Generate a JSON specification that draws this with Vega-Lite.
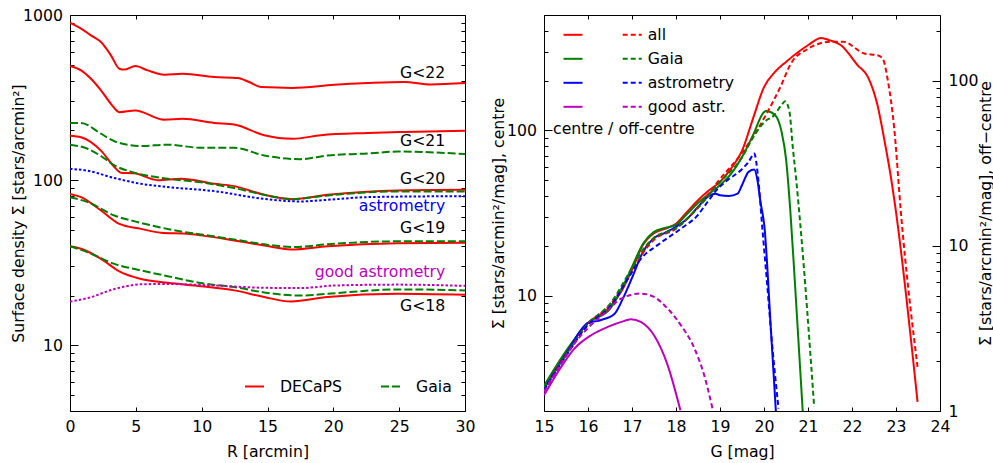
{
  "$schema": "https://vega.github.io/schema/vega-lite/v6.json",
  "padding": {"left": 9, "top": 6, "right": 0, "bottom": 0},
  "background": "white",
  "config": {
    "font": "DejaVu Sans",
    "view": {"stroke": "black", "strokeWidth": 1},
    "axis": {"grid": false, "domain": false, "labelFont": "DejaVu Sans", "labelFontSize": 15.7, "labelColor": "black", "titleFont": "DejaVu Sans", "titleFontSize": 15.7, "titleFontWeight": "normal", "titleColor": "black", "tickColor": "black", "tickWidth": 1, "labelOverlap": false, "labelFlush": false, "labelBound": false},
    "legend": {"labelFont": "DejaVu Sans", "labelFontSize": 15.7, "labelColor": "black", "titleFont": "DejaVu Sans", "titleFontSize": 15.7, "titleFontWeight": "normal", "titleColor": "black", "padding": 0},
    "text": {"font": "DejaVu Sans", "fontSize": 15.7}
  },
  "datasets": {
    "profiles": [
      {"survey": "DECaPS", "cut": "G<22", "R": 0, "density": 898},
      {"survey": "DECaPS", "cut": "G<22", "R": 0.84, "density": 826},
      {"survey": "DECaPS", "cut": "G<22", "R": 1.59, "density": 753},
      {"survey": "DECaPS", "cut": "G<22", "R": 2.35, "density": 686},
      {"survey": "DECaPS", "cut": "G<22", "R": 3.11, "density": 570},
      {"survey": "DECaPS", "cut": "G<22", "R": 3.75, "density": 473},
      {"survey": "DECaPS", "cut": "G<22", "R": 4.12, "density": 467},
      {"survey": "DECaPS", "cut": "G<22", "R": 4.96, "density": 491},
      {"survey": "DECaPS", "cut": "G<22", "R": 5.9, "density": 462},
      {"survey": "DECaPS", "cut": "G<22", "R": 7.16, "density": 435},
      {"survey": "DECaPS", "cut": "G<22", "R": 8.55, "density": 441},
      {"survey": "DECaPS", "cut": "G<22", "R": 10.96, "density": 421},
      {"survey": "DECaPS", "cut": "G<22", "R": 12.73, "density": 415},
      {"survey": "DECaPS", "cut": "G<22", "R": 13.6, "density": 393},
      {"survey": "DECaPS", "cut": "G<22", "R": 14.5, "density": 366},
      {"survey": "DECaPS", "cut": "G<22", "R": 16.9, "density": 362},
      {"survey": "DECaPS", "cut": "G<22", "R": 20.07, "density": 378},
      {"survey": "DECaPS", "cut": "G<22", "R": 22.6, "density": 387},
      {"survey": "DECaPS", "cut": "G<22", "R": 25.4, "density": 393},
      {"survey": "DECaPS", "cut": "G<22", "R": 27.4, "density": 380},
      {"survey": "DECaPS", "cut": "G<22", "R": 30, "density": 387},
      {"survey": "DECaPS", "cut": "G<21", "R": 0, "density": 491},
      {"survey": "DECaPS", "cut": "G<21", "R": 0.84, "density": 462},
      {"survey": "DECaPS", "cut": "G<21", "R": 1.59, "density": 411},
      {"survey": "DECaPS", "cut": "G<21", "R": 2.35, "density": 350},
      {"survey": "DECaPS", "cut": "G<21", "R": 3.11, "density": 290},
      {"survey": "DECaPS", "cut": "G<21", "R": 3.75, "density": 258},
      {"survey": "DECaPS", "cut": "G<21", "R": 4.96, "density": 264},
      {"survey": "DECaPS", "cut": "G<21", "R": 7.16, "density": 232},
      {"survey": "DECaPS", "cut": "G<21", "R": 8.55, "density": 235},
      {"survey": "DECaPS", "cut": "G<21", "R": 10.96, "density": 222},
      {"survey": "DECaPS", "cut": "G<21", "R": 12.48, "density": 217},
      {"survey": "DECaPS", "cut": "G<21", "R": 14.75, "density": 187},
      {"survey": "DECaPS", "cut": "G<21", "R": 16.9, "density": 178},
      {"survey": "DECaPS", "cut": "G<21", "R": 19.06, "density": 187},
      {"survey": "DECaPS", "cut": "G<21", "R": 22.6, "density": 193},
      {"survey": "DECaPS", "cut": "G<21", "R": 25.4, "density": 196},
      {"survey": "DECaPS", "cut": "G<21", "R": 30, "density": 199},
      {"survey": "Gaia", "cut": "G<21", "R": 0, "density": 222},
      {"survey": "Gaia", "cut": "G<21", "R": 0.84, "density": 222},
      {"survey": "Gaia", "cut": "G<21", "R": 2.35, "density": 191},
      {"survey": "Gaia", "cut": "G<21", "R": 3.37, "density": 172},
      {"survey": "Gaia", "cut": "G<21", "R": 5.39, "density": 161},
      {"survey": "Gaia", "cut": "G<21", "R": 7.42, "density": 164},
      {"survey": "Gaia", "cut": "G<21", "R": 9.95, "density": 157},
      {"survey": "Gaia", "cut": "G<21", "R": 12.48, "density": 157},
      {"survey": "Gaia", "cut": "G<21", "R": 14.75, "density": 141},
      {"survey": "Gaia", "cut": "G<21", "R": 17.5, "density": 134},
      {"survey": "Gaia", "cut": "G<21", "R": 19.56, "density": 141},
      {"survey": "Gaia", "cut": "G<21", "R": 22.6, "density": 145},
      {"survey": "Gaia", "cut": "G<21", "R": 24.9, "density": 149},
      {"survey": "Gaia", "cut": "G<21", "R": 30, "density": 144},
      {"survey": "DECaPS", "cut": "G<20", "R": 0, "density": 186},
      {"survey": "DECaPS", "cut": "G<20", "R": 0.84, "density": 182},
      {"survey": "DECaPS", "cut": "G<20", "R": 2.35, "density": 151},
      {"survey": "DECaPS", "cut": "G<20", "R": 3.37, "density": 120},
      {"survey": "DECaPS", "cut": "G<20", "R": 3.87, "density": 111},
      {"survey": "DECaPS", "cut": "G<20", "R": 4.88, "density": 110},
      {"survey": "DECaPS", "cut": "G<20", "R": 6.66, "density": 100},
      {"survey": "DECaPS", "cut": "G<20", "R": 8.43, "density": 102},
      {"survey": "DECaPS", "cut": "G<20", "R": 10.96, "density": 95},
      {"survey": "DECaPS", "cut": "G<20", "R": 12.48, "density": 92},
      {"survey": "DECaPS", "cut": "G<20", "R": 14.75, "density": 81.5},
      {"survey": "DECaPS", "cut": "G<20", "R": 16.9, "density": 76.7},
      {"survey": "DECaPS", "cut": "G<20", "R": 19.56, "density": 81.5},
      {"survey": "DECaPS", "cut": "G<20", "R": 24.9, "density": 86.7},
      {"survey": "DECaPS", "cut": "G<20", "R": 30, "density": 87.5},
      {"survey": "Gaia", "cut": "G<20", "R": 0, "density": 164},
      {"survey": "Gaia", "cut": "G<20", "R": 1.34, "density": 155},
      {"survey": "Gaia", "cut": "G<20", "R": 2.35, "density": 140},
      {"survey": "Gaia", "cut": "G<20", "R": 3.37, "density": 123},
      {"survey": "Gaia", "cut": "G<20", "R": 4.88, "density": 111},
      {"survey": "Gaia", "cut": "G<20", "R": 7.42, "density": 102},
      {"survey": "Gaia", "cut": "G<20", "R": 9.95, "density": 97},
      {"survey": "Gaia", "cut": "G<20", "R": 12.48, "density": 89.5},
      {"survey": "Gaia", "cut": "G<20", "R": 14.75, "density": 81.5},
      {"survey": "Gaia", "cut": "G<20", "R": 16.9, "density": 76.7},
      {"survey": "Gaia", "cut": "G<20", "R": 19.56, "density": 80.8},
      {"survey": "Gaia", "cut": "G<20", "R": 24.9, "density": 85.5},
      {"survey": "Gaia", "cut": "G<20", "R": 30, "density": 85.5},
      {"survey": "DECaPS", "cut": "G<19", "R": 0, "density": 82.6},
      {"survey": "DECaPS", "cut": "G<19", "R": 0.84, "density": 78.9},
      {"survey": "DECaPS", "cut": "G<19", "R": 2.35, "density": 65.5},
      {"survey": "DECaPS", "cut": "G<19", "R": 3.75, "density": 54.3},
      {"survey": "DECaPS", "cut": "G<19", "R": 5.39, "density": 50.7},
      {"survey": "DECaPS", "cut": "G<19", "R": 6.91, "density": 48},
      {"survey": "DECaPS", "cut": "G<19", "R": 8.94, "density": 47.3},
      {"survey": "DECaPS", "cut": "G<19", "R": 9.95, "density": 46.3},
      {"survey": "DECaPS", "cut": "G<19", "R": 12.48, "density": 43.1},
      {"survey": "DECaPS", "cut": "G<19", "R": 14.75, "density": 40.2},
      {"survey": "DECaPS", "cut": "G<19", "R": 16.78, "density": 38},
      {"survey": "DECaPS", "cut": "G<19", "R": 19.56, "density": 39.8},
      {"survey": "DECaPS", "cut": "G<19", "R": 24.9, "density": 41.5},
      {"survey": "DECaPS", "cut": "G<19", "R": 30, "density": 41.7},
      {"survey": "Gaia", "cut": "G<19", "R": 0, "density": 78.9},
      {"survey": "Gaia", "cut": "G<19", "R": 1.34, "density": 73.6},
      {"survey": "Gaia", "cut": "G<19", "R": 3.37, "density": 61.1},
      {"survey": "Gaia", "cut": "G<19", "R": 5.39, "density": 55.1},
      {"survey": "Gaia", "cut": "G<19", "R": 8.43, "density": 48.9},
      {"survey": "Gaia", "cut": "G<19", "R": 9.95, "density": 46.9},
      {"survey": "Gaia", "cut": "G<19", "R": 12.48, "density": 43.7},
      {"survey": "Gaia", "cut": "G<19", "R": 14.75, "density": 40.9},
      {"survey": "Gaia", "cut": "G<19", "R": 17.03, "density": 39.3},
      {"survey": "Gaia", "cut": "G<19", "R": 19.56, "density": 40.9},
      {"survey": "Gaia", "cut": "G<19", "R": 24.9, "density": 42.6},
      {"survey": "Gaia", "cut": "G<19", "R": 30, "density": 42.6},
      {"survey": "DECaPS", "cut": "G<18", "R": 0, "density": 39.8},
      {"survey": "DECaPS", "cut": "G<18", "R": 0.84, "density": 38.4},
      {"survey": "DECaPS", "cut": "G<18", "R": 2.35, "density": 33.4},
      {"survey": "DECaPS", "cut": "G<18", "R": 3.75, "density": 28},
      {"survey": "DECaPS", "cut": "G<18", "R": 5.39, "density": 25.2},
      {"survey": "DECaPS", "cut": "G<18", "R": 7.42, "density": 23.9},
      {"survey": "DECaPS", "cut": "G<18", "R": 9.95, "density": 22.8},
      {"survey": "DECaPS", "cut": "G<18", "R": 12.48, "density": 21.5},
      {"survey": "DECaPS", "cut": "G<18", "R": 14.75, "density": 19.6},
      {"survey": "DECaPS", "cut": "G<18", "R": 16.78, "density": 18.4},
      {"survey": "DECaPS", "cut": "G<18", "R": 19.56, "density": 19.6},
      {"survey": "DECaPS", "cut": "G<18", "R": 24.9, "density": 20.5},
      {"survey": "DECaPS", "cut": "G<18", "R": 30, "density": 20.2},
      {"survey": "Gaia", "cut": "G<18", "R": 0, "density": 39.8},
      {"survey": "Gaia", "cut": "G<18", "R": 1.34, "density": 36.6},
      {"survey": "Gaia", "cut": "G<18", "R": 3.37, "density": 31.1},
      {"survey": "Gaia", "cut": "G<18", "R": 5.39, "density": 28.4},
      {"survey": "Gaia", "cut": "G<18", "R": 7.42, "density": 26.2},
      {"survey": "Gaia", "cut": "G<18", "R": 9.95, "density": 23.8},
      {"survey": "Gaia", "cut": "G<18", "R": 12.48, "density": 22.5},
      {"survey": "Gaia", "cut": "G<18", "R": 14.75, "density": 20.9},
      {"survey": "Gaia", "cut": "G<18", "R": 17.5, "density": 20.0},
      {"survey": "Gaia", "cut": "G<18", "R": 19.56, "density": 20.5},
      {"survey": "Gaia", "cut": "G<18", "R": 24.9, "density": 21.8},
      {"survey": "Gaia", "cut": "G<18", "R": 30, "density": 21.5}
    ],
    "dotted": [
      {"sample": "astrometry", "R": 0, "density": 117},
      {"sample": "astrometry", "R": 1.34, "density": 114},
      {"sample": "astrometry", "R": 3.37, "density": 103},
      {"sample": "astrometry", "R": 5.39, "density": 95},
      {"sample": "astrometry", "R": 7.42, "density": 90.8},
      {"sample": "astrometry", "R": 10.96, "density": 85.8},
      {"sample": "astrometry", "R": 14.75, "density": 77},
      {"sample": "astrometry", "R": 17.5, "density": 74.3},
      {"sample": "astrometry", "R": 19.56, "density": 76},
      {"sample": "astrometry", "R": 22.6, "density": 78.9},
      {"sample": "astrometry", "R": 30, "density": 80},
      {"sample": "good astrometry", "R": 0, "density": 18.4},
      {"sample": "good astrometry", "R": 1.34, "density": 19.3},
      {"sample": "good astrometry", "R": 3.37, "density": 21.9},
      {"sample": "good astrometry", "R": 5.39, "density": 23.4},
      {"sample": "good astrometry", "R": 7.42, "density": 23.5},
      {"sample": "good astrometry", "R": 10.96, "density": 23},
      {"sample": "good astrometry", "R": 14.75, "density": 22.3},
      {"sample": "good astrometry", "R": 17.5, "density": 22.2},
      {"sample": "good astrometry", "R": 20.07, "density": 23},
      {"sample": "good astrometry", "R": 24.9, "density": 23.3},
      {"sample": "good astrometry", "R": 30, "density": 22.9}
    ],
    "labels": [
      {"text": "G<22", "kind": "cut", "R": 28.5, "density": 447},
      {"text": "G<21", "kind": "cut", "R": 28.5, "density": 172},
      {"text": "G<20", "kind": "cut", "R": 28.5, "density": 102},
      {"text": "astrometry", "kind": "astrometry", "R": 28.5, "density": 69.5},
      {"text": "G<19", "kind": "cut", "R": 28.5, "density": 51.2},
      {"text": "good astrometry", "kind": "good astrometry", "R": 28.5, "density": 27.7},
      {"text": "G<18", "kind": "cut", "R": 28.5, "density": 17.2}
    ],
    "lf": [
      {"region": "centre", "pop": "all", "G": 15, "sigma": 2.8},
      {"region": "centre", "pop": "all", "G": 15.5, "sigma": 4.56},
      {"region": "centre", "pop": "all", "G": 16, "sigma": 6.83},
      {"region": "centre", "pop": "all", "G": 16.5, "sigma": 8.53},
      {"region": "centre", "pop": "all", "G": 16.75, "sigma": 10.5},
      {"region": "centre", "pop": "all", "G": 17, "sigma": 14.3},
      {"region": "centre", "pop": "all", "G": 17.25, "sigma": 20.3},
      {"region": "centre", "pop": "all", "G": 17.5, "sigma": 23.9},
      {"region": "centre", "pop": "all", "G": 17.75, "sigma": 25.4},
      {"region": "centre", "pop": "all", "G": 18, "sigma": 27.2},
      {"region": "centre", "pop": "all", "G": 18.25, "sigma": 32.1},
      {"region": "centre", "pop": "all", "G": 18.5, "sigma": 37.8},
      {"region": "centre", "pop": "all", "G": 18.75, "sigma": 43.4},
      {"region": "centre", "pop": "all", "G": 19, "sigma": 48.8},
      {"region": "centre", "pop": "all", "G": 19.25, "sigma": 58.7},
      {"region": "centre", "pop": "all", "G": 19.5, "sigma": 75.1},
      {"region": "centre", "pop": "all", "G": 19.75, "sigma": 118},
      {"region": "centre", "pop": "all", "G": 20, "sigma": 183},
      {"region": "centre", "pop": "all", "G": 20.25, "sigma": 226},
      {"region": "centre", "pop": "all", "G": 20.5, "sigma": 260},
      {"region": "centre", "pop": "all", "G": 21, "sigma": 328},
      {"region": "centre", "pop": "all", "G": 21.3, "sigma": 363},
      {"region": "centre", "pop": "all", "G": 21.5, "sigma": 351},
      {"region": "centre", "pop": "all", "G": 21.75, "sigma": 328},
      {"region": "centre", "pop": "all", "G": 22.13, "sigma": 248},
      {"region": "centre", "pop": "all", "G": 22.36, "sigma": 211},
      {"region": "centre", "pop": "all", "G": 22.58, "sigma": 142},
      {"region": "centre", "pop": "all", "G": 22.73, "sigma": 89.2},
      {"region": "centre", "pop": "all", "G": 22.89, "sigma": 51},
      {"region": "centre", "pop": "all", "G": 23, "sigma": 32.1},
      {"region": "centre", "pop": "all", "G": 23.49, "sigma": 2.27},
      {"region": "centre", "pop": "Gaia", "G": 15, "sigma": 2.84},
      {"region": "centre", "pop": "Gaia", "G": 15.5, "sigma": 4.62},
      {"region": "centre", "pop": "Gaia", "G": 16, "sigma": 6.83},
      {"region": "centre", "pop": "Gaia", "G": 16.5, "sigma": 8.31},
      {"region": "centre", "pop": "Gaia", "G": 16.75, "sigma": 10.8},
      {"region": "centre", "pop": "Gaia", "G": 17, "sigma": 14.9},
      {"region": "centre", "pop": "Gaia", "G": 17.25, "sigma": 20.6},
      {"region": "centre", "pop": "Gaia", "G": 17.5, "sigma": 24.3},
      {"region": "centre", "pop": "Gaia", "G": 17.75, "sigma": 25.7},
      {"region": "centre", "pop": "Gaia", "G": 18, "sigma": 26.8},
      {"region": "centre", "pop": "Gaia", "G": 18.25, "sigma": 31.2},
      {"region": "centre", "pop": "Gaia", "G": 18.5, "sigma": 36.4},
      {"region": "centre", "pop": "Gaia", "G": 18.75, "sigma": 41.3},
      {"region": "centre", "pop": "Gaia", "G": 19, "sigma": 46.6},
      {"region": "centre", "pop": "Gaia", "G": 19.25, "sigma": 54.5},
      {"region": "centre", "pop": "Gaia", "G": 19.5, "sigma": 69},
      {"region": "centre", "pop": "Gaia", "G": 19.75, "sigma": 93.5},
      {"region": "centre", "pop": "Gaia", "G": 20, "sigma": 129},
      {"region": "centre", "pop": "Gaia", "G": 20.05, "sigma": 131},
      {"region": "centre", "pop": "Gaia", "G": 20.25, "sigma": 124},
      {"region": "centre", "pop": "Gaia", "G": 20.4, "sigma": 98},
      {"region": "centre", "pop": "Gaia", "G": 20.5, "sigma": 67.5},
      {"region": "centre", "pop": "Gaia", "G": 20.6, "sigma": 32.1},
      {"region": "centre", "pop": "Gaia", "G": 20.7, "sigma": 12.3},
      {"region": "centre", "pop": "Gaia", "G": 20.88, "sigma": 2.0},
      {"region": "centre", "pop": "astrometry", "G": 15, "sigma": 2.72},
      {"region": "centre", "pop": "astrometry", "G": 15.5, "sigma": 4.43},
      {"region": "centre", "pop": "astrometry", "G": 16, "sigma": 6.83},
      {"region": "centre", "pop": "astrometry", "G": 16.3, "sigma": 7.12},
      {"region": "centre", "pop": "astrometry", "G": 16.6, "sigma": 7.74},
      {"region": "centre", "pop": "astrometry", "G": 16.8, "sigma": 9.68},
      {"region": "centre", "pop": "astrometry", "G": 17, "sigma": 12.8},
      {"region": "centre", "pop": "astrometry", "G": 17.25, "sigma": 18.4},
      {"region": "centre", "pop": "astrometry", "G": 17.5, "sigma": 22.3},
      {"region": "centre", "pop": "astrometry", "G": 17.75, "sigma": 24.0},
      {"region": "centre", "pop": "astrometry", "G": 18, "sigma": 26.1},
      {"region": "centre", "pop": "astrometry", "G": 18.25, "sigma": 29.1},
      {"region": "centre", "pop": "astrometry", "G": 18.5, "sigma": 34.4},
      {"region": "centre", "pop": "astrometry", "G": 18.75, "sigma": 40.1},
      {"region": "centre", "pop": "astrometry", "G": 18.9, "sigma": 41.4},
      {"region": "centre", "pop": "astrometry", "G": 19, "sigma": 40.5},
      {"region": "centre", "pop": "astrometry", "G": 19.2, "sigma": 40.1},
      {"region": "centre", "pop": "astrometry", "G": 19.4, "sigma": 41.4},
      {"region": "centre", "pop": "astrometry", "G": 19.5, "sigma": 46.6},
      {"region": "centre", "pop": "astrometry", "G": 19.65, "sigma": 56.1},
      {"region": "centre", "pop": "astrometry", "G": 19.78, "sigma": 57.9},
      {"region": "centre", "pop": "astrometry", "G": 19.85, "sigma": 50.1},
      {"region": "centre", "pop": "astrometry", "G": 19.92, "sigma": 36.9},
      {"region": "centre", "pop": "astrometry", "G": 20.01, "sigma": 26.1},
      {"region": "centre", "pop": "astrometry", "G": 20.16, "sigma": 6.03},
      {"region": "centre", "pop": "astrometry", "G": 20.27, "sigma": 2.0},
      {"region": "centre", "pop": "good astr.", "G": 15, "sigma": 2.49},
      {"region": "centre", "pop": "good astr.", "G": 15.39, "sigma": 3.7},
      {"region": "centre", "pop": "good astr.", "G": 15.69, "sigma": 4.77},
      {"region": "centre", "pop": "good astr.", "G": 16.07, "sigma": 5.75},
      {"region": "centre", "pop": "good astr.", "G": 16.45, "sigma": 6.46},
      {"region": "centre", "pop": "good astr.", "G": 16.83, "sigma": 7.03},
      {"region": "centre", "pop": "good astr.", "G": 16.98, "sigma": 7.19},
      {"region": "centre", "pop": "good astr.", "G": 17.2, "sigma": 6.93},
      {"region": "centre", "pop": "good astr.", "G": 17.5, "sigma": 5.75},
      {"region": "centre", "pop": "good astr.", "G": 17.81, "sigma": 3.79},
      {"region": "centre", "pop": "good astr.", "G": 18.1, "sigma": 2.02},
      {"region": "off-centre", "pop": "all", "G": 15, "sigma": 1.343},
      {"region": "off-centre", "pop": "all", "G": 15.5, "sigma": 2.19},
      {"region": "off-centre", "pop": "all", "G": 16, "sigma": 3.37},
      {"region": "off-centre", "pop": "all", "G": 16.5, "sigma": 4.39},
      {"region": "off-centre", "pop": "all", "G": 17, "sigma": 6.95},
      {"region": "off-centre", "pop": "all", "G": 17.25, "sigma": 9.06},
      {"region": "off-centre", "pop": "all", "G": 17.5, "sigma": 10.9},
      {"region": "off-centre", "pop": "all", "G": 18, "sigma": 12.7},
      {"region": "off-centre", "pop": "all", "G": 18.5, "sigma": 17.2},
      {"region": "off-centre", "pop": "all", "G": 19, "sigma": 25.4},
      {"region": "off-centre", "pop": "all", "G": 19.48, "sigma": 36},
      {"region": "off-centre", "pop": "all", "G": 19.86, "sigma": 51},
      {"region": "off-centre", "pop": "all", "G": 20.08, "sigma": 64.7},
      {"region": "off-centre", "pop": "all", "G": 20.39, "sigma": 93.8},
      {"region": "off-centre", "pop": "all", "G": 20.61, "sigma": 126.8},
      {"region": "off-centre", "pop": "all", "G": 21, "sigma": 156},
      {"region": "off-centre", "pop": "all", "G": 21.5, "sigma": 172},
      {"region": "off-centre", "pop": "all", "G": 21.8, "sigma": 172},
      {"region": "off-centre", "pop": "all", "G": 22.28, "sigma": 146},
      {"region": "off-centre", "pop": "all", "G": 22.58, "sigma": 142.5},
      {"region": "off-centre", "pop": "all", "G": 22.7, "sigma": 136},
      {"region": "off-centre", "pop": "all", "G": 22.81, "sigma": 102},
      {"region": "off-centre", "pop": "all", "G": 22.96, "sigma": 51.3},
      {"region": "off-centre", "pop": "all", "G": 23.11, "sigma": 16.1},
      {"region": "off-centre", "pop": "all", "G": 23.49, "sigma": 1.85},
      {"region": "off-centre", "pop": "Gaia", "G": 15, "sigma": 1.38},
      {"region": "off-centre", "pop": "Gaia", "G": 15.5, "sigma": 2.19},
      {"region": "off-centre", "pop": "Gaia", "G": 16, "sigma": 3.37},
      {"region": "off-centre", "pop": "Gaia", "G": 16.5, "sigma": 4.45},
      {"region": "off-centre", "pop": "Gaia", "G": 17, "sigma": 7.36},
      {"region": "off-centre", "pop": "Gaia", "G": 17.25, "sigma": 9.5},
      {"region": "off-centre", "pop": "Gaia", "G": 17.5, "sigma": 11.2},
      {"region": "off-centre", "pop": "Gaia", "G": 18, "sigma": 12.8},
      {"region": "off-centre", "pop": "Gaia", "G": 18.5, "sigma": 17},
      {"region": "off-centre", "pop": "Gaia", "G": 19, "sigma": 24.4},
      {"region": "off-centre", "pop": "Gaia", "G": 19.48, "sigma": 33.7},
      {"region": "off-centre", "pop": "Gaia", "G": 19.78, "sigma": 46.7},
      {"region": "off-centre", "pop": "Gaia", "G": 20.01, "sigma": 56.3},
      {"region": "off-centre", "pop": "Gaia", "G": 20.23, "sigma": 61.8},
      {"region": "off-centre", "pop": "Gaia", "G": 20.42, "sigma": 72.6},
      {"region": "off-centre", "pop": "Gaia", "G": 20.48, "sigma": 75.1},
      {"region": "off-centre", "pop": "Gaia", "G": 20.58, "sigma": 64.7},
      {"region": "off-centre", "pop": "Gaia", "G": 20.65, "sigma": 40.6},
      {"region": "off-centre", "pop": "Gaia", "G": 20.73, "sigma": 25.5},
      {"region": "off-centre", "pop": "Gaia", "G": 20.82, "sigma": 14},
      {"region": "off-centre", "pop": "Gaia", "G": 21.14, "sigma": 1.06},
      {"region": "off-centre", "pop": "astrometry", "G": 15, "sigma": 1.343},
      {"region": "off-centre", "pop": "astrometry", "G": 15.5, "sigma": 2.16},
      {"region": "off-centre", "pop": "astrometry", "G": 16, "sigma": 3.32},
      {"region": "off-centre", "pop": "astrometry", "G": 16.5, "sigma": 4.27},
      {"region": "off-centre", "pop": "astrometry", "G": 17, "sigma": 6.95},
      {"region": "off-centre", "pop": "astrometry", "G": 17.2, "sigma": 8.34},
      {"region": "off-centre", "pop": "astrometry", "G": 17.58, "sigma": 10.1},
      {"region": "off-centre", "pop": "astrometry", "G": 18.11, "sigma": 12.7},
      {"region": "off-centre", "pop": "astrometry", "G": 18.49, "sigma": 15.3},
      {"region": "off-centre", "pop": "astrometry", "G": 18.72, "sigma": 18.5},
      {"region": "off-centre", "pop": "astrometry", "G": 18.95, "sigma": 22.2},
      {"region": "off-centre", "pop": "astrometry", "G": 19.17, "sigma": 25},
      {"region": "off-centre", "pop": "astrometry", "G": 19.48, "sigma": 28.8},
      {"region": "off-centre", "pop": "astrometry", "G": 19.65, "sigma": 32.2},
      {"region": "off-centre", "pop": "astrometry", "G": 19.78, "sigma": 36.2},
      {"region": "off-centre", "pop": "astrometry", "G": 19.86, "sigma": 26.8},
      {"region": "off-centre", "pop": "astrometry", "G": 19.97, "sigma": 12.1},
      {"region": "off-centre", "pop": "astrometry", "G": 20.08, "sigma": 5.51},
      {"region": "off-centre", "pop": "astrometry", "G": 20.16, "sigma": 3.01},
      {"region": "off-centre", "pop": "astrometry", "G": 20.33, "sigma": 1.035},
      {"region": "off-centre", "pop": "good astr.", "G": 15, "sigma": 1.306},
      {"region": "off-centre", "pop": "good astr.", "G": 15.39, "sigma": 1.936},
      {"region": "off-centre", "pop": "good astr.", "G": 15.69, "sigma": 2.56},
      {"region": "off-centre", "pop": "good astr.", "G": 15.99, "sigma": 3.16},
      {"region": "off-centre", "pop": "good astr.", "G": 16.45, "sigma": 4.07},
      {"region": "off-centre", "pop": "good astr.", "G": 16.75, "sigma": 4.79},
      {"region": "off-centre", "pop": "good astr.", "G": 17.2, "sigma": 5.14},
      {"region": "off-centre", "pop": "good astr.", "G": 17.5, "sigma": 4.91},
      {"region": "off-centre", "pop": "good astr.", "G": 17.81, "sigma": 4.17},
      {"region": "off-centre", "pop": "good astr.", "G": 18.11, "sigma": 3.31},
      {"region": "off-centre", "pop": "good astr.", "G": 18.42, "sigma": 2.39},
      {"region": "off-centre", "pop": "good astr.", "G": 18.64, "sigma": 1.65},
      {"region": "off-centre", "pop": "good astr.", "G": 18.83, "sigma": 1.035}
    ]
  },
  "bounds": "flush",
  "spacing": 79,
  "hconcat": [
    {
      "width": 395,
      "height": 396,
      "layer": [
        {
          "data": {"name": "profiles"},
          "transform": [{"filter": "datum.survey == 'DECaPS'"}],
          "mark": {"type": "line", "interpolate": "monotone", "strokeWidth": 2, "clip": true},
          "encoding": {
            "x": {"field": "R", "type": "quantitative", "scale": {"domain": [0, 30], "nice": false, "zero": false},
              "axis": {"orient": "bottom", "values": [0, 5, 10, 15, 20, 25, 30], "title": "R [arcmin]", "tickSize": -4, "labelPadding": 12, "titleY": 40, "titleBaseline": "middle"}},
            "y": {"field": "density", "type": "quantitative", "scale": {"type": "log", "domain": [4, 1000], "nice": false},
              "axis": {"orient": "left", "values": [4, 5, 6, 7, 8, 9, 10, 20, 30, 40, 50, 60, 70, 80, 90, 100, 200, 300, 400, 500, 600, 700, 800, 900, 1000],
                "labelExpr": "(datum.value == 10 || datum.value == 100 || datum.value == 1000) ? '' + datum.value : ''",
                "tickSize": {"condition": {"test": "datum.value == 10 || datum.value == 100 || datum.value == 1000", "value": -8}, "value": -4},
                "labelPadding": 15.5, "title": "Surface density Σ [stars/arcmin²]", "titleX": -51.5, "titleAngle": 270, "titleBaseline": "middle"}},
            "color": {"field": "survey", "type": "nominal", "scale": {"domain": ["DECaPS"], "range": ["#ff0000"]},
              "legend": {"orient": "none", "legendX": 174, "legendY": 361, "title": null, "symbolType": "stroke", "symbolSize": 361, "symbolStrokeWidth": 2, "labelOffset": 15}},
            "detail": {"field": "cut", "type": "nominal"}
          }
        },
        {
          "data": {"name": "profiles"},
          "transform": [{"filter": "datum.survey == 'Gaia'"}],
          "mark": {"type": "line", "interpolate": "monotone", "strokeWidth": 2, "strokeDash": [8, 3], "clip": true},
          "encoding": {
            "x": {"field": "R", "type": "quantitative",
              "axis": {"orient": "top", "values": [0, 5, 10, 15, 20, 25, 30], "labels": false, "title": null, "tickSize": -4}},
            "y": {"field": "density", "type": "quantitative",
              "axis": {"orient": "right", "values": [4, 5, 6, 7, 8, 9, 10, 20, 30, 40, 50, 60, 70, 80, 90, 100, 200, 300, 400, 500, 600, 700, 800, 900, 1000], "labels": false, "title": null,
                "tickSize": {"condition": {"test": "datum.value == 10 || datum.value == 100 || datum.value == 1000", "value": -8}, "value": -4}}},
            "color": {"field": "survey", "type": "nominal", "scale": {"domain": ["Gaia"], "range": ["#008000"]},
              "legend": {"orient": "none", "legendX": 310, "legendY": 361, "title": null, "symbolType": "stroke", "symbolSize": 361, "symbolStrokeWidth": 2, "symbolDash": [8, 3], "labelOffset": 15}},
            "detail": {"field": "cut", "type": "nominal"}
          }
        },
        {
          "data": {"name": "dotted"},
          "mark": {"type": "line", "interpolate": "monotone", "strokeWidth": 2, "strokeDash": [2.5, 2], "clip": true},
          "encoding": {
            "x": {"field": "R", "type": "quantitative", "axis": null},
            "y": {"field": "density", "type": "quantitative", "axis": null},
            "color": {"field": "sample", "type": "nominal", "scale": {"domain": ["astrometry", "good astrometry"], "range": ["#0000ff", "#bf00bf"]}, "legend": null}
          }
        },
        {
          "data": {"name": "labels"},
          "mark": {"type": "text", "align": "right", "baseline": "middle", "fontSize": 15.7},
          "encoding": {
            "x": {"field": "R", "type": "quantitative", "axis": null},
            "y": {"field": "density", "type": "quantitative", "axis": null},
            "text": {"field": "text"},
            "color": {"field": "kind", "type": "nominal", "scale": {"domain": ["cut", "astrometry", "good astrometry"], "range": ["#000000", "#0000ff", "#bf00bf"]}, "legend": null}
          }
        }
      ],
      "resolve": {"scale": {"color": "independent"}, "axis": {"x": "independent", "y": "independent"}, "legend": {"color": "independent"}}
    },
    {
      "width": 396,
      "height": 396,
      "layer": [
        {
          "data": {"name": "lf"},
          "transform": [{"filter": "datum.region == 'centre'"}],
          "mark": {"type": "line", "interpolate": "monotone", "strokeWidth": 2, "clip": true},
          "encoding": {
            "x": {"field": "G", "type": "quantitative", "scale": {"domain": [15, 24], "nice": false, "zero": false},
              "axis": {"orient": "bottom", "values": [15, 16, 17, 18, 19, 20, 21, 22, 23, 24], "title": "G [mag]", "tickSize": -4, "labelPadding": 12, "titleY": 40, "titleBaseline": "middle"}},
            "y": {"field": "sigma", "type": "quantitative", "scale": {"type": "log", "domain": [2, 500], "nice": false},
              "axis": {"orient": "left", "values": [2, 3, 4, 5, 6, 7, 8, 9, 10, 20, 30, 40, 50, 60, 70, 80, 90, 100, 200, 300, 400, 500],
                "labelExpr": "(datum.value == 10 || datum.value == 100) ? '' + datum.value : ''",
                "tickSize": {"condition": {"test": "datum.value == 10 || datum.value == 100", "value": -8}, "value": -4},
                "labelPadding": 15.5, "title": "Σ [stars/arcmin²/mag], centre", "titleX": -46, "titleAngle": 270, "titleBaseline": "middle"}},
            "color": {"field": "pop", "type": "nominal", "scale": {"domain": ["all", "Gaia", "astrometry", "good astr."], "range": ["#ff0000", "#008000", "#0000ff", "#bf00bf"]},
              "legend": {"orient": "none", "legendX": 9, "legendY": 9.3, "title": "centre / off-centre", "titleOrient": "bottom", "titleAnchor": "start", "titlePadding": 7.4, "symbolType": "stroke", "symbolSize": 361, "symbolStrokeWidth": 2, "symbolOffset": 9.5, "labelExpr": "''", "rowPadding": 5}}
          }
        },
        {
          "data": {"name": "lf"},
          "transform": [{"filter": "datum.region == 'off-centre'"}],
          "mark": {"type": "line", "interpolate": "monotone", "strokeWidth": 2, "strokeDash": [5, 3], "clip": true},
          "encoding": {
            "x": {"field": "G", "type": "quantitative",
              "axis": {"orient": "top", "values": [15, 16, 17, 18, 19, 20, 21, 22, 23, 24], "labels": false, "title": null, "tickSize": -4}},
            "y": {"field": "sigma", "type": "quantitative", "scale": {"type": "log", "domain": [1, 250], "nice": false},
              "axis": {"orient": "right", "values": [1, 2, 3, 4, 5, 6, 7, 8, 9, 10, 20, 30, 40, 50, 60, 70, 80, 90, 100, 200],
                "labelExpr": "(datum.value == 1 || datum.value == 10 || datum.value == 100) ? '' + datum.value : ''",
                "tickSize": {"condition": {"test": "datum.value == 1 || datum.value == 10 || datum.value == 100", "value": -8}, "value": -4},
                "labelPadding": 16, "title": "Σ [stars/arcmin²/mag], off−centre", "titleX": 45, "titleAngle": 270, "titleBaseline": "middle"}},
            "color": {"field": "pop", "type": "nominal", "scale": {"domain": ["all", "Gaia", "astrometry", "good astr."], "range": ["#ff0000", "#008000", "#0000ff", "#bf00bf"]},
              "legend": {"orient": "none", "legendX": 77.7, "legendY": 9.3, "title": null, "symbolType": "stroke", "symbolSize": 361, "symbolStrokeWidth": 2, "symbolDash": [5, 3], "labelOffset": 5, "rowPadding": 5}}
          }
        }
      ],
      "resolve": {"scale": {"y": "independent", "color": "independent"}, "axis": {"x": "independent", "y": "independent"}, "legend": {"color": "independent"}}
    }
  ]
}
